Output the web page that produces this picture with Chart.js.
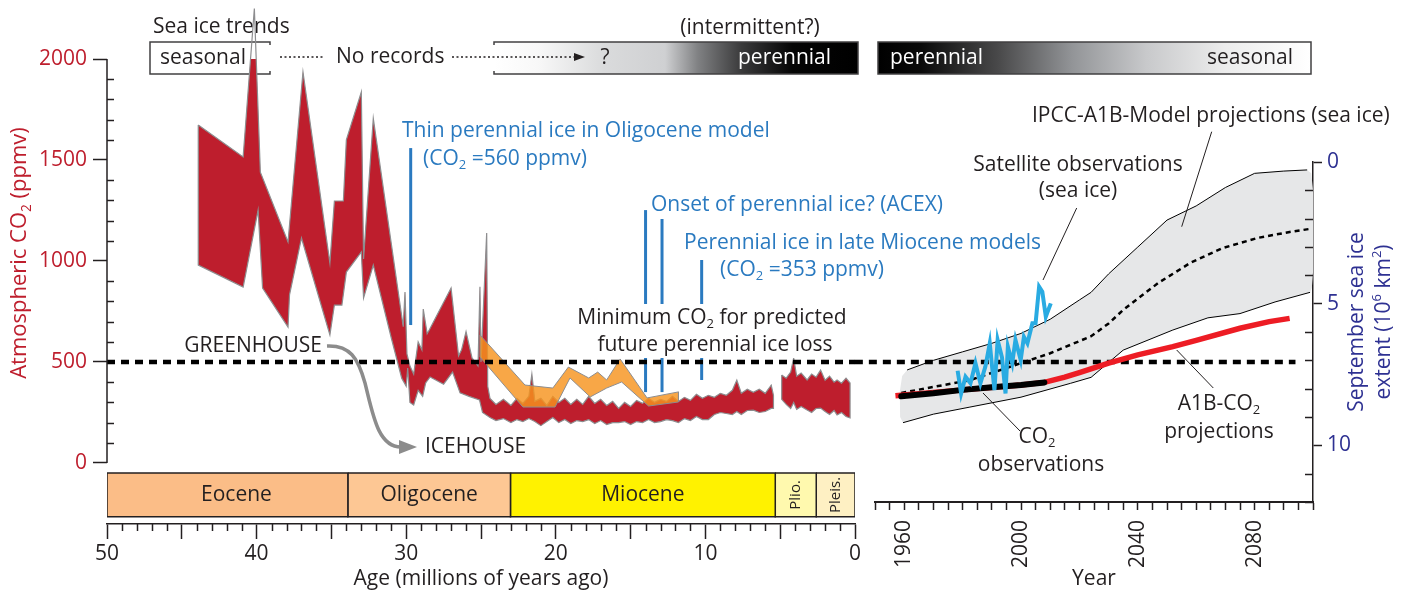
<!DOCTYPE html>
<html>
<head>
<meta charset="utf-8">
<script src="https://cdn.jsdelivr.net/npm/chart.js@4.4.1/dist/chart.umd.min.js"></script>
<style>
  html, body { margin: 0; padding: 0; background: #fff; }
  #wrap { position: relative; width: 1413px; height: 592px; overflow: hidden; }
  .layer { position: absolute; left: 0; top: 0; width: 1413px; height: 592px; }
</style>
</head>
<body>
<div id="wrap">
  <div class="layer"><canvas id="ageChart"></canvas></div>
  <div class="layer"><canvas id="yearChart"></canvas></div>
</div>
<script>
// ---- Cenozoic CO2 proxy band: [age (Ma), CO2 (ppmv)] ----
const co2BandUpper = [
  [43.9, 1673], [40.9, 1515], [40.15, 2250], [39.75, 1440], [37.9, 1094], [36.9, 1936],
  [35.1, 990], [34.8, 1297], [34.2, 1297], [34.0, 1600], [33.0, 1836], [32.85, 1010],
  [32.2, 1706], [30.2, 675], [30.08, 846], [29.95, 540], [29.75, 480], [29.5, 440],
  [29.2, 600], [28.95, 560], [28.86, 762], [28.6, 640], [28.45, 660], [27.0, 866],
  [26.5, 530], [26.3, 560], [26.0, 650], [25.6, 520], [25.2, 480], [25.07, 873],
  [25.0, 500], [24.62, 1139], [24.55, 380], [24.4, 320], [24.0, 290], [23.5, 315],
  [23.0, 285], [22.6, 320], [22.2, 295], [21.8, 330], [21.6, 440], [21.4, 305],
  [21.0, 320], [20.6, 285], [20.2, 330], [19.8, 300], [19.4, 320], [19.0, 290],
  [18.6, 315], [18.2, 290], [17.8, 330], [17.4, 295], [17.0, 315], [16.6, 285],
  [16.2, 305], [15.8, 270], [15.4, 300], [15.0, 280], [14.6, 310], [14.2, 295],
  [13.8, 320], [13.4, 300], [13.0, 315], [12.6, 305], [12.2, 330], [11.8, 305],
  [11.4, 325], [11.0, 310], [10.6, 340], [10.2, 320], [9.8, 335], [9.4, 325],
  [9.0, 345], [8.6, 335], [8.2, 360], [7.9, 410], [7.6, 345], [7.2, 365],
  [6.8, 350], [6.4, 365], [6.0, 345], [5.6, 385], [5.45, 335]
];
const co2BandLower = [
  [43.9, 980], [40.9, 871], [39.9, 1252], [39.6, 866], [37.9, 673], [37.8, 832],
  [37.0, 1114], [35.1, 634], [34.8, 782], [34.3, 782], [34.0, 945], [33.0, 1045],
  [32.85, 817], [32.2, 980], [31.0, 620], [30.3, 420], [30.0, 380], [29.9, 470],
  [29.75, 300], [29.5, 287], [29.2, 360], [28.9, 330], [28.7, 396], [28.4, 426],
  [27.5, 390], [26.9, 450], [26.4, 347], [25.8, 330], [25.1, 312], [24.9, 250],
  [24.4, 225], [24.0, 210], [23.5, 220], [23.0, 200], [22.6, 215], [22.2, 205],
  [21.8, 220], [21.4, 205], [21.0, 185], [20.6, 205], [20.2, 225], [19.8, 200],
  [19.4, 215], [19.0, 195], [18.6, 210], [18.2, 205], [17.8, 215], [17.4, 195],
  [17.0, 210], [16.6, 190], [16.2, 200], [15.8, 200], [15.4, 205], [15.0, 190],
  [14.6, 205], [14.2, 200], [13.8, 215], [13.4, 200], [13.0, 205], [12.6, 215],
  [12.2, 210], [11.8, 200], [11.4, 220], [11.0, 210], [10.6, 230], [10.2, 215],
  [9.8, 215], [9.4, 240], [9.0, 250], [8.6, 245], [8.2, 240], [7.9, 255],
  [7.6, 240], [7.2, 260], [6.8, 262], [6.4, 250], [6.0, 255], [5.6, 270], [5.45, 270]
];
const co2YoungUpper = [
  [4.9, 436], [4.6, 420], [4.3, 450], [4.1, 520], [3.9, 430], [3.6, 445], [3.2, 411],
  [2.9, 440], [2.6, 425], [2.3, 460], [2.0, 410], [1.7, 430], [1.4, 400], [1.2, 411],
  [0.9, 395], [0.6, 420], [0.33, 396]
];
const co2YoungLower = [
  [4.9, 315], [4.6, 290], [4.3, 270], [4.1, 300], [3.9, 265], [3.6, 280], [3.2, 262],
  [2.9, 250], [2.6, 270], [2.3, 272], [2.0, 255], [1.7, 240], [1.4, 260], [1.2, 238],
  [0.9, 250], [0.6, 230], [0.33, 223]
];
// second (orange) proxy band
const orangeUpper = [[25.07, 634], [22.06, 386], [20.2, 371], [19.16, 475], [17.8, 421],
  [17.2, 450], [16.6, 411], [15.7, 515], [13.9, 322], [11.8, 352]];
const orangeLower = [[25.07, 525], [22.2, 277], [20.05, 277], [19.05, 421], [17.7, 327],
  [16.6, 371], [15.6, 401], [13.8, 282], [11.8, 302]];

// blue marker lines (age, CO2 range)
const markerAges = [29.7, 14.0, 12.9, 10.25];
const markerTop = [1559, 1252, 1208, 1005];
const markerBottom = [683, 351, 351, 411];

const threshold = 500;

// epochs
const epochNames = ['Eocene', 'Oligocene', 'Miocene', 'Plio.', 'Pleis.'];
const epochStart = [50, 33.9, 23.03, 5.33, 2.59];
const epochEnd = [33.9, 23.03, 5.33, 2.59, 0];

// ---- modern period: [year, value] ----
const satellite = [
  [1978.3, 7.37], [1979.5, 8.17], [1981, 7.58], [1982.7, 7.81], [1984.4, 7.1], [1986.1, 7.81],
  [1987.8, 7.22], [1989.3, 6.4], [1990.9, 8.05], [1992, 6.28], [1993.5, 6.9], [1994.7, 8.17],
  [1995.5, 6.52], [1997, 7.1], [1998.1, 6.28], [1999.9, 6.99], [2001, 6.17], [2002.2, 6.4],
  [2003.9, 5.69], [2005, 5.69], [2006.2, 4.4], [2007.3, 4.58], [2008.5, 5.46], [2010.2, 4.99]
];
const co2Obs = [[1959, 330], [1970, 345], [1980, 362], [1990, 375], [2000, 386], [2008, 399]];
const co2A1B = [[1957, 333], [1980, 362], [2000, 386], [2008, 399], [2015, 425], [2020, 448],
  [2030, 494], [2040, 535], [2052, 576], [2060, 607], [2075, 667], [2085, 700], [2092, 716]];
const iceUpper = [[1961, 7.34], [1970, 7.0], [1980, 6.7], [1990, 6.4], [2000, 6.05], [2010, 5.55],
  [2020, 4.87], [2024, 4.6], [2030, 3.95], [2040, 3.0], [2050, 2.05], [2060, 1.55],
  [2070, 0.9], [2080, 0.4], [2090, 0.32], [2098, 0.28]];
const iceLower = [[1959.6, 9.2], [1970, 8.9], [1982.5, 8.65], [2000, 8.3], [2017, 7.81],
  [2024, 7.6], [2035, 6.64], [2052, 5.93], [2064, 5.5], [2075, 5.35], [2087, 4.94], [2099, 4.6]];
const iceMean = [[1959, 8.15], [1982.5, 7.7], [2000, 7.1], [2010, 6.75], [2017, 6.45], [2024, 6.15],
  [2030, 5.7], [2035, 5.22], [2047, 4.27], [2058, 3.56], [2069, 3.04], [2081, 2.68],
  [2092, 2.47], [2099, 2.36]];
// shaded envelope ends beyond the outline
const iceCapRight = [[2099.4, 0.4], [2100, 1.0], [2100, 3.9], [2099.6, 4.45]];
const iceCapLeft = [[1958.6, 9.0], [1958.5, 8.1], [1959.3, 7.55]];

// ticks
const ageTicks = [];
for (let a = 0; a <= 50; a++) ageTicks.push(a);
const ageLabels = [0, 10, 20, 30, 40, 50];
const co2Ticks = [];
for (let c = 0; c <= 2000; c += 100) co2Ticks.push(c);
const co2Labels = [0, 500, 1000, 1500, 2000];
const yearTicks = [];
for (let t = 1950; t <= 2100; t += 5) yearTicks.push(t);
const yearLabels = [1960, 2000, 2040, 2080];
const iceTicks = [];
for (let s = 0; s <= 12; s++) iceTicks.push(s);
const iceLabels = [0, 5, 10];

// ---- styling ----
const ink = '#231F20';
const co2Red = '#BE1E2D';
const noteBlue = '#2A7AC0';
const navy = '#2E3192';
const clear = 'rgba(0,0,0,0)';
const epochColors = ['#FBBD87', '#FDC794', '#FFF200', '#FFF9AE', '#FEF0C3'];
const EPOCH_TOP = -50, EPOCH_BOTTOM = -266;
const FONT = "'Open Sans', sans-serif";

Chart.defaults.font.family = FONT;
Chart.defaults.font.size = 21;
Chart.defaults.color = ink;

const pts = (arr) => arr.map(([x, y]) => ({ x, y }));
const poly = (upper, lower) => pts(upper.concat(lower.slice().reverse(), [upper[0]]));

// text with _{sub} and ^{sup}
function richText(ctx, str, x, y, opt = {}) {
  const size = opt.size || 21;
  const align = opt.align || 'left';
  const parts = [];
  const re = /([_^])\{([^}]*)\}/g;
  let last = 0, m;
  while ((m = re.exec(str))) {
    if (m.index > last) parts.push({ t: str.slice(last, m.index), k: '' });
    parts.push({ t: m[2], k: m[1] });
    last = re.lastIndex;
  }
  if (last < str.length) parts.push({ t: str.slice(last), k: '' });
  let w = 0;
  parts.forEach((p) => {
    p.s = p.k ? size * 0.62 : size;
    ctx.font = `${p.s}px ${FONT}`;
    p.w = ctx.measureText(p.t).width;
    w += p.w;
  });
  let cx = align === 'center' ? x - w / 2 : align === 'right' ? x - w : x;
  ctx.save();
  ctx.fillStyle = opt.color || ink;
  ctx.textBaseline = 'middle';
  ctx.textAlign = 'left';
  parts.forEach((p) => {
    ctx.font = `${p.s}px ${FONT}`;
    const dy = p.k === '_' ? size * 0.32 : p.k === '^' ? -size * 0.3 : 0;
    ctx.fillText(p.t, cx, y + dy);
    cx += p.w;
  });
  ctx.restore();
  return w;
}

function segment(ctx, x1, y1, x2, y2) {
  ctx.beginPath();
  ctx.moveTo(x1, y1);
  ctx.lineTo(x2, y2);
  ctx.stroke();
}

// "Sea ice trends" bar along the top
function drawTrendBar(ctx) {
  ctx.save();
  ctx.strokeStyle = '#414042';
  ctx.lineWidth = 1.5;
  richText(ctx, 'Sea ice trends', 153, 27);
  richText(ctx, '(intermittent?)', 750, 28, { align: 'center' });

  ctx.fillStyle = '#fff';
  ctx.fillRect(150, 42, 120, 32);
  ctx.beginPath();
  ctx.moveTo(270, 45); ctx.lineTo(270, 42); ctx.lineTo(150, 42);
  ctx.lineTo(150, 74); ctx.lineTo(270, 74); ctx.lineTo(270, 71);
  ctx.stroke();

  let g = ctx.createLinearGradient(494, 0, 858, 0);
  g.addColorStop(0, '#ffffff');
  g.addColorStop(0.12, '#f8f8f8');
  g.addColorStop(0.3, '#dadbdc');
  g.addColorStop(0.47, '#cfd0d2');
  g.addColorStop(0.56, '#808183');
  g.addColorStop(0.68, '#3a3a3b');
  g.addColorStop(0.82, '#050505');
  g.addColorStop(1, '#000000');
  ctx.fillStyle = g;
  ctx.fillRect(494, 42, 364, 32);
  ctx.beginPath();
  ctx.moveTo(494, 45); ctx.lineTo(494, 42); ctx.lineTo(858, 42);
  ctx.lineTo(858, 74); ctx.lineTo(494, 74); ctx.lineTo(494, 71);
  ctx.stroke();

  g = ctx.createLinearGradient(878, 0, 1311, 0);
  g.addColorStop(0, '#000000');
  g.addColorStop(0.1, '#0a0a0a');
  g.addColorStop(0.28, '#4a4a4b');
  g.addColorStop(0.45, '#939598');
  g.addColorStop(0.62, '#c8c9cb');
  g.addColorStop(0.8, '#ececec');
  g.addColorStop(1, '#ffffff');
  ctx.fillStyle = g;
  ctx.fillRect(878, 42, 433, 32);
  ctx.strokeRect(878, 42, 433, 32);

  ctx.strokeStyle = ink;
  ctx.setLineDash([2, 2.5]);
  segment(ctx, 280, 57, 325, 57);
  segment(ctx, 452, 57, 576, 57);
  ctx.setLineDash([]);
  ctx.fillStyle = ink;
  ctx.beginPath();
  ctx.moveTo(574, 53); ctx.lineTo(585, 57); ctx.lineTo(574, 61);
  ctx.closePath();
  ctx.fill();

  richText(ctx, 'seasonal', 160, 58);
  richText(ctx, 'No records', 336, 57);
  richText(ctx, '?', 605, 58, { align: 'center' });
  richText(ctx, 'perennial', 738, 58, { color: '#fff' });
  richText(ctx, 'perennial', 890, 58, { color: '#fff' });
  richText(ctx, 'seasonal', 1293, 58, { align: 'right' });
  ctx.restore();
}

const ageDecor = {
  id: 'ageDecor',
  beforeDatasetsDraw(chart) {
    drawTrendBar(chart.ctx);
  },
  afterDatasetsDraw(chart) {
    const { ctx, chartArea, scales: { x, y } } = chart;
    ctx.save();
    ctx.strokeStyle = ink;
    ctx.lineWidth = 1.5;
    // CO2 axis line from 0 to 2000 and inner minor ticks
    segment(ctx, chartArea.left, y.getPixelForValue(0), chartArea.left, y.getPixelForValue(2000));
    co2Ticks.filter((v) => !co2Labels.includes(v)).forEach((v) => {
      const py = Math.round(y.getPixelForValue(v)) + 0.5;
      segment(ctx, chartArea.left, py, chartArea.left + 7, py);
    });
    ageTicks.filter((v) => v % 5 !== 0).forEach((v) => {
      const px = Math.round(x.getPixelForValue(v)) + 0.5;
      segment(ctx, px, chartArea.bottom, px, chartArea.bottom + 7);
    });

    // epoch names
    const ey = (y.getPixelForValue(EPOCH_TOP) + y.getPixelForValue(EPOCH_BOTTOM)) / 2;
    epochNames.forEach((name, i) => {
      const ex = (x.getPixelForValue(epochStart[i]) + x.getPixelForValue(epochEnd[i])) / 2;
      if (name.length > 6) {
        richText(ctx, name, ex, ey, { align: 'center' });
      } else if (i < 3) {
        richText(ctx, name, ex + 9, ey, { align: 'center' });
      } else {
        ctx.save();
        ctx.translate(ex, ey);
        ctx.rotate(-Math.PI / 2);
        richText(ctx, name, 0, 0, { align: 'center', size: 15 });
        ctx.restore();
      }
    });

    // annotations
    const blue = { color: noteBlue };
    richText(ctx, 'Thin perennial ice in Oligocene model', 402, 131, blue);
    richText(ctx, '(CO_{2} =560 ppmv)', 423, 159, blue);
    richText(ctx, 'Onset of perennial ice? (ACEX)', 651, 205, blue);
    richText(ctx, 'Perennial ice in late Miocene models', 684, 243, blue);
    richText(ctx, '(CO_{2} =353 ppmv)', 720, 270, blue);

    ctx.fillStyle = '#fff';
    ctx.fillRect(572, 304, 282, 54);
    richText(ctx, 'Minimum CO_{2} for predicted', 712, 318, { align: 'center' });
    richText(ctx, 'future perennial ice loss', 715, 345, { align: 'center' });

    richText(ctx, 'GREENHOUSE', 322, 346, { align: 'right' });
    richText(ctx, 'ICEHOUSE', 425, 447);
    ctx.strokeStyle = '#8C8C8C';
    ctx.fillStyle = '#8C8C8C';
    ctx.lineWidth = 3.5;
    ctx.beginPath();
    ctx.moveTo(327, 346);
    ctx.bezierCurveTo(350, 345, 358, 358, 365, 383);
    ctx.bezierCurveTo(373, 415, 378, 447, 401, 447);
    ctx.stroke();
    ctx.beginPath();
    ctx.moveTo(399, 440); ctx.lineTo(417, 447); ctx.lineTo(399, 454);
    ctx.closePath();
    ctx.fill();
    ctx.restore();

    // rotated CO2 axis title
    ctx.save();
    ctx.translate(20, 253);
    ctx.rotate(-Math.PI / 2);
    richText(ctx, 'Atmospheric CO_{2} (ppmv)', 0, 0, { align: 'center', color: co2Red, size: 22 });
    ctx.restore();
  }
};

const ageDatasets = [
  { data: pts([[50, threshold], [0, threshold]]), borderColor: '#000', borderWidth: 4.5,
    borderDash: [8, 6], order: 0 }
];
markerAges.forEach((a, i) => {
  ageDatasets.push({ data: pts([[a, markerBottom[i]], [a, markerTop[i]]]), borderColor: noteBlue,
    borderWidth: 3, order: 1 });
});
ageDatasets.push(
  { data: poly(orangeUpper, orangeLower), fill: 'shape', backgroundColor: 'rgba(247,148,30,0.82)',
    borderColor: '#8d8d8f', borderWidth: 1, order: 2 },
  { data: poly(co2BandUpper, co2BandLower), fill: 'shape', backgroundColor: co2Red,
    borderColor: '#8d8d8f', borderWidth: 1.2, clip: false, order: 3 },
  { data: poly(co2YoungUpper, co2YoungLower), fill: 'shape', backgroundColor: co2Red,
    borderColor: '#8d8d8f', borderWidth: 1.2, order: 3 }
);
epochNames.forEach((name, i) => {
  const s = epochStart[i], e = epochEnd[i];
  ageDatasets.push({
    data: pts([[s, EPOCH_TOP], [e, EPOCH_TOP], [e, EPOCH_BOTTOM], [s, EPOCH_BOTTOM], [s, EPOCH_TOP]]),
    fill: 'shape', backgroundColor: epochColors[i], borderColor: ink, borderWidth: 1.5, order: 5
  });
});

new Chart(document.getElementById('ageChart'), {
  type: 'line',
  data: { datasets: ageDatasets },
  options: {
    responsive: true,
    maintainAspectRatio: false,
    animation: false,
    layout: { padding: { left: 0, top: 59, right: 558, bottom: 0 } },
    plugins: { legend: { display: false }, tooltip: { enabled: false } },
    elements: { point: { radius: 0 }, line: { tension: 0, capBezierPoints: false } },
    scales: {
      x: {
        type: 'linear', min: 0, max: 50, reverse: true,
        afterBuildTicks: (s) => { s.ticks = ageTicks.map((v) => ({ value: v })); },
        afterFit: (s) => { s.height = 68; },
        ticks: { autoSkip: false, maxRotation: 0, padding: 2, color: ink,
          callback: (v) => (ageLabels.includes(v) ? String(v) : '') },
        grid: { drawOnChartArea: false, tickLength: 15, tickWidth: 1.5,
          color: (c) => (c.tick && c.tick.value % 5 === 0 ? ink : clear) },
        border: { display: true, color: ink, width: 1.5 },
        title: { display: true, text: 'Age (millions of years ago)', color: ink, padding: 0 }
      },
      y: {
        type: 'linear', min: -302, max: 2000,
        afterBuildTicks: (s) => { s.ticks = co2Ticks.map((v) => ({ value: v })); },
        afterFit: (s) => { s.width = 107; },
        ticks: { autoSkip: false, padding: 6, color: co2Red,
          callback: (v) => (co2Labels.includes(v) ? String(v) : '') },
        grid: { drawOnChartArea: false, tickLength: 14, tickWidth: 1.5,
          color: (c) => (c.tick && co2Labels.includes(c.tick.value) ? ink : clear) },
        border: { display: false }
      }
    }
  },
  plugins: [ageDecor]
});

// ---- right panel ----
const yearDecor = {
  id: 'yearDecor',
  afterDatasetsDraw(chart) {
    const { ctx, chartArea, scales } = chart;
    const ice = scales.yIce;
    ctx.save();
    ctx.strokeStyle = ink;
    ctx.lineWidth = 1.5;
    iceTicks.filter((v) => !iceLabels.includes(v)).forEach((v) => {
      const py = Math.round(ice.getPixelForValue(v)) + 0.5;
      segment(ctx, chartArea.right, py, chartArea.right - 8, py);
    });

    ctx.lineWidth = 1;
    segment(ctx, 1211.7, 131.7, 1181.7, 226.7);
    segment(ctx, 1076.7, 208, 1043, 280);
    segment(ctx, 983, 393, 1020, 431);
    segment(ctx, 1176.7, 350, 1213.3, 388);

    richText(ctx, 'IPCC-A1B-Model projections (sea ice)', 1032, 116);
    richText(ctx, 'Satellite observations', 1078, 165, { align: 'center' });
    richText(ctx, '(sea ice)', 1078, 191, { align: 'center' });
    richText(ctx, 'CO_{2}', 1037, 437, { align: 'center' });
    richText(ctx, 'observations', 1041, 465, { align: 'center' });
    richText(ctx, 'A1B-CO_{2}', 1219, 404, { align: 'center' });
    richText(ctx, 'projections', 1219, 432, { align: 'center' });

    ctx.translate(1357, 322);
    ctx.rotate(-Math.PI / 2);
    richText(ctx, 'September sea ice', 0, 0, { align: 'center', color: navy });
    richText(ctx, 'extent (10^{6} km^{2})', 0, 27, { align: 'center', color: navy });
    ctx.restore();
  }
};

new Chart(document.getElementById('yearChart'), {
  type: 'line',
  data: {
    datasets: [
      { data: pts(satellite), yAxisID: 'yIce', borderColor: '#29ABE2', borderWidth: 4, order: 0 },
      { data: pts(co2Obs), yAxisID: 'yCo2', borderColor: '#000', borderWidth: 6,
        borderCapStyle: 'round', order: 1 },
      { data: pts(co2A1B), yAxisID: 'yCo2', borderColor: '#ED1C24', borderWidth: 5.5, order: 2 },
      { data: pts([[1943.1, threshold], [2094, threshold]]), yAxisID: 'yCo2', borderColor: '#000',
        borderWidth: 4.5, borderDash: [8, 6], clip: false, order: 3 },
      { data: pts(iceMean), yAxisID: 'yIce', borderColor: '#000', borderWidth: 2.5,
        borderDash: [5, 4], order: 4 },
      { data: pts(iceUpper), yAxisID: 'yIce', borderColor: '#000', borderWidth: 1, order: 5 },
      { data: pts(iceLower), yAxisID: 'yIce', borderColor: '#000', borderWidth: 1, order: 5 },
      { data: pts(iceUpper.concat(iceCapRight, iceLower.slice().reverse(), iceCapLeft, [iceUpper[0]])),
        yAxisID: 'yIce', fill: 'shape', backgroundColor: '#E6E7E8', borderWidth: 0, order: 6 }
    ]
  },
  options: {
    responsive: true,
    maintainAspectRatio: false,
    animation: false,
    layout: { padding: { left: 875, top: 162, right: 0, bottom: 0 } },
    plugins: { legend: { display: false }, tooltip: { enabled: false } },
    elements: { point: { radius: 0 }, line: { tension: 0 } },
    scales: {
      x: {
        type: 'linear', min: 1950, max: 2100,
        afterBuildTicks: (s) => { s.ticks = yearTicks.map((v) => ({ value: v })); },
        afterFit: (s) => { s.height = 90; },
        ticks: { autoSkip: false, minRotation: 90, maxRotation: 90, padding: 10, color: ink,
          callback: (v) => (yearLabels.includes(v) ? String(v) : '') },
        grid: { drawOnChartArea: false, tickLength: 8, tickWidth: 1.5, color: ink },
        border: { display: true, color: ink, width: 2 },
        title: { display: true, text: 'Year', color: ink, padding: 0 }
      },
      yIce: {
        axis: 'y', type: 'linear', position: 'right', min: 0, max: 12, reverse: true,
        afterBuildTicks: (s) => { s.ticks = iceTicks.map((v) => ({ value: v })); },
        afterFit: (s) => { s.width = 100; },
        ticks: { autoSkip: false, padding: 5, color: navy,
          callback: (v) => (iceLabels.includes(v) ? String(v) : '') },
        grid: { drawOnChartArea: false, tickLength: 9, tickWidth: 1.5,
          color: (c) => (c.tick && iceLabels.includes(c.tick.value) ? ink : clear) },
        border: { display: true, color: ink, width: 1.5 }
      },
      yCo2: { axis: 'y', type: 'linear', display: false, min: -193, max: 1490 }
    }
  },
  plugins: [yearDecor]
});
</script>
</body>
</html>
